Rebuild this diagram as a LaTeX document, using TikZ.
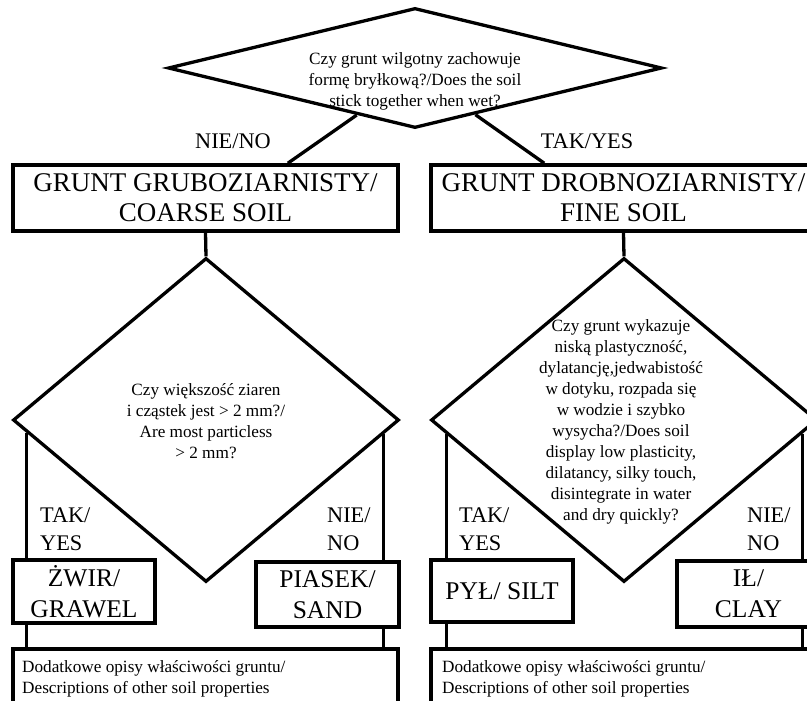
\documentclass[tikz,border=0pt]{standalone}
\usepackage{fontspec}
\setmainfont{Liberation Serif}
\usetikzlibrary{shapes.geometric,calc}
\begin{document}
\begin{tikzpicture}[x=1pt,y=-1pt,
  conn/.style={line width=3.3pt},
  dia/.style={draw,line width=3.3pt,shape=diamond,inner sep=0pt},
  box/.style={draw,line width=3.6pt,inner sep=0pt,align=center,font=\fontsize{27}{30}\selectfont},
  leaf/.style={box,font=\fontsize{25.5}{31}\selectfont},
  qtext/.style={align=center,inner sep=0pt,font=\fontsize{17.2}{21}\selectfont},
  lab/.style={align=left,inner sep=0pt,font=\fontsize{22.3}{28}\selectfont},
  note/.style={align=left,inner sep=0pt,font=\fontsize{17.2}{21}\selectfont}
]
\useasboundingbox (0,0) rectangle (807,701);
\clip (0,0) rectangle (807,701);
\fill[white] (0,0) rectangle (807,701);

% top question
\node[dia,minimum width=494pt,minimum height=120pt] (q1) at (415,68) {};
\node[qtext] (q1t) at (415,81) {Czy grunt wilgotny zachowuje\\formę bryłkową?/Does the soil\\stick together when wet?};

% main boxes
\node[box,minimum width=385pt,minimum height=66pt] (b1) at (205.5,198) {GRUNT GRUBOZIARNISTY/\\COARSE SOIL};
\node[box,minimum width=385pt,minimum height=66pt] (b2) at (623.5,198) {GRUNT DROBNOZIARNISTY/\\FINE SOIL};

\coordinate (q1l) at ($(q1.south)!0.235!(q1.west)$);
\coordinate (q1r) at ($(q1.south)!0.243!(q1.east)$);
\coordinate (b1t) at ($(b1.north west)!0.712!(b1.north east)$);
\coordinate (b2t) at ($(b2.north west)!0.296!(b2.north east)$);
\draw[conn] (q1l) -- (b1t);
\draw[conn] (q1r) -- (b2t);
\node[lab] (nie0) at (233,141) {NIE/NO};
\node[lab] (tak0) at (587,141) {TAK/YES};

% second level questions
\node[dia,minimum width=386pt,minimum height=324pt] (q2) at (206,420) {};
\node[dia,minimum width=386pt,minimum height=324pt] (q3) at (624,420) {};
\draw[conn] (b1.south) -- (q2.north);
\draw[conn] (b2.south) -- (q3.north);
\node[qtext] (q2t) at (206,421) {Czy większość ziaren\\i cząstek jest > 2 mm?/\\Are most particless\\> 2 mm?};
\node[qtext] (q3t) at (621,422) {Czy grunt wykazuje\\niską plastyczność,\\dylatancję,jedwabistość\\w dotyku, rozpada się\\w wodzie i szybko\\wysycha?/Does soil\\display low plasticity,\\dilatancy, silky touch,\\disintegrate in water\\and dry quickly?};

% leaf boxes
\node[leaf,minimum width=142pt,minimum height=63pt] (zw) at (84,591.5) {ŻWIR/\\GRAWEL};
\node[leaf,minimum width=143pt,minimum height=65pt] (pi) at (327.5,594.5) {PIASEK/\\SAND};
\node[leaf,minimum width=142pt,minimum height=62pt] (py) at (502,591) {PYŁ/ SILT};
\node[leaf,minimum width=143pt,minimum height=66pt] (il) at (748.5,594) {IŁ/\\CLAY};

% description boxes
\node[draw,line width=3.6pt,inner sep=0pt,minimum width=385pt,minimum height=100pt] (d1) at (205.5,699) {};
\node[draw,line width=3.6pt,inner sep=0pt,minimum width=385pt,minimum height=100pt] (d2) at (623.5,699) {};

% connectors left
\coordinate (q2l) at ($(q2.south)!0.922!(q2.west)$);
\coordinate (q2r) at ($(q2.south)!0.912!(q2.east)$);
\draw[conn] (q2l) -- (q2l |- zw.north);
\draw[conn] (q2r) -- (q2r |- pi.north);
\draw[conn] (q2l |- zw.south) -- (q2l |- d1.north);
\draw[conn] (q2r |- pi.south) -- (q2r |- d1.north);
% connectors right
\coordinate (q3l) at ($(q3.south)!0.912!(q3.west)$);
\coordinate (q3r) at ($(q3.south)!0.917!(q3.east)$);
\draw[conn] (q3l) -- (q3l |- py.north);
\draw[conn] (q3r) -- (q3r |- il.north);
\draw[conn] (q3l |- py.south) -- (q3l |- d2.north);
\draw[conn] (q3r |- il.south) -- (q3r |- d2.north);

% branch labels
\node[lab,anchor=west] (tak1) at (40,529) {TAK/\\YES};
\node[lab,anchor=west] (nie1) at (327,529) {NIE/\\NO};
\node[lab,anchor=west] (tak2) at (459,529) {TAK/\\YES};
\node[lab,anchor=west] (nie2) at (747,529) {NIE/\\NO};

% notes
\node[note,anchor=west] (n1) at (22,678.5) {Dodatkowe opisy właściwości gruntu/\\Descriptions of other soil properties};
\node[note,anchor=west] (n2) at (442,678.5) {Dodatkowe opisy właściwości gruntu/\\Descriptions of other soil properties};
\end{tikzpicture}
\end{document}
